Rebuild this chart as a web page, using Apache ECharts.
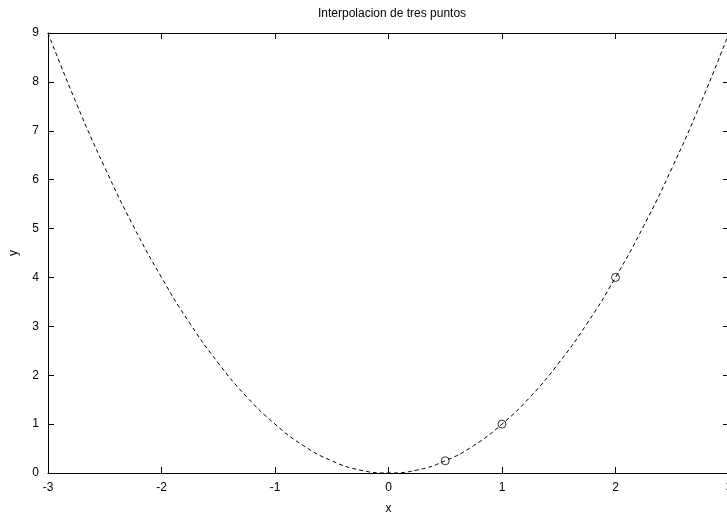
<!DOCTYPE html>
<html><head><meta charset="utf-8">
<script src="https://cdn.jsdelivr.net/npm/echarts@6/dist/echarts.min.js"></script>
<style>html,body{margin:0;padding:0;background:#fff}#c{width:727px;height:516px}</style>
</head><body><div id="c"></div>
<script>
var titleText = 'Interpolacion de tres puntos';
var xName = 'x';
var yName = 'y';
// curve samples (x, y)
var curveX = [-3,-2.75,-2.5,-2.25,-2,-1.75,-1.5,-1.25,-1,-0.75,-0.5,-0.25,0,0.25,0.5,0.75,1,1.25,1.5,1.75,2,2.25,2.5,2.75,3];
var curveY = [9,7.56,6.25,5.06,4,3.06,2.25,1.56,1,0.56,0.25,0.06,0,0.06,0.25,0.56,1,1.56,2.25,3.06,4,5.06,6.25,7.56,9];
// interpolation nodes
var ptsX = [0.5, 1, 2];
var ptsY = [0.25, 1, 4];

var curve = curveX.map(function(x,i){return [x, curveY[i]];});
var pts = ptsX.map(function(x,i){return [x, ptsY[i]];});
var font = 'Liberation Sans';
var lineStyle = {color:'#000', width:1};
var chart = echarts.init(document.getElementById('c'));
chart.setOption({
  animation:false,
  backgroundColor:'#fff',
  title:{text:titleText, left:313, top:3,
    textStyle:{fontFamily:font, fontSize:12, fontWeight:'normal', color:'#000'}},
  grid:{left:48, top:33, width:681, height:440, containLabel:false, outerBoundsMode:'none'},
  xAxis:[{type:'value', min:-3, max:3, interval:1, name:xName, nameLocation:'middle', nameGap:30,
    nameTextStyle:{fontFamily:font, fontSize:12, color:'#000'},
    axisLine:{show:true, onZero:false, lineStyle:lineStyle},
    axisTick:{show:true, inside:true, length:6, lineStyle:lineStyle},
    axisLabel:{fontFamily:font, fontSize:12, color:'#000', margin:9},
    splitLine:{show:false}},
   {type:'value', position:'top', min:-3, max:3, interval:1,
    axisLine:{show:true, onZero:false, lineStyle:lineStyle},
    axisTick:{show:true, inside:true, length:6, lineStyle:lineStyle},
    axisLabel:{show:false}, splitLine:{show:false}}],
  yAxis:[{type:'value', min:0, max:9, interval:1, name:yName, nameLocation:'middle', nameGap:28,
    nameRotate:90,
    nameTextStyle:{fontFamily:font, fontSize:12, color:'#000'},
    axisLine:{show:true, onZero:false, lineStyle:lineStyle},
    axisTick:{show:true, inside:true, length:6, lineStyle:lineStyle},
    axisLabel:{fontFamily:font, fontSize:12, color:'#000', margin:9},
    splitLine:{show:false}},
   {type:'value', position:'right', min:0, max:9, interval:1,
    axisLine:{show:true, onZero:false, lineStyle:lineStyle},
    axisTick:{show:true, inside:true, length:6, lineStyle:lineStyle},
    axisLabel:{show:false}, splitLine:{show:false}}],
  series:[
    {type:'line', data:curve, smooth:0.5, showSymbol:false, symbol:'none',
     lineStyle:{color:'#000', width:1, type:[4,3]}, z:2},
    {type:'scatter', data:pts, symbol:'circle', symbolSize:8,
     itemStyle:{color:'rgba(0,0,0,0)', borderColor:'#000', borderWidth:1}, z:3}
  ]
});
</script></body></html>
